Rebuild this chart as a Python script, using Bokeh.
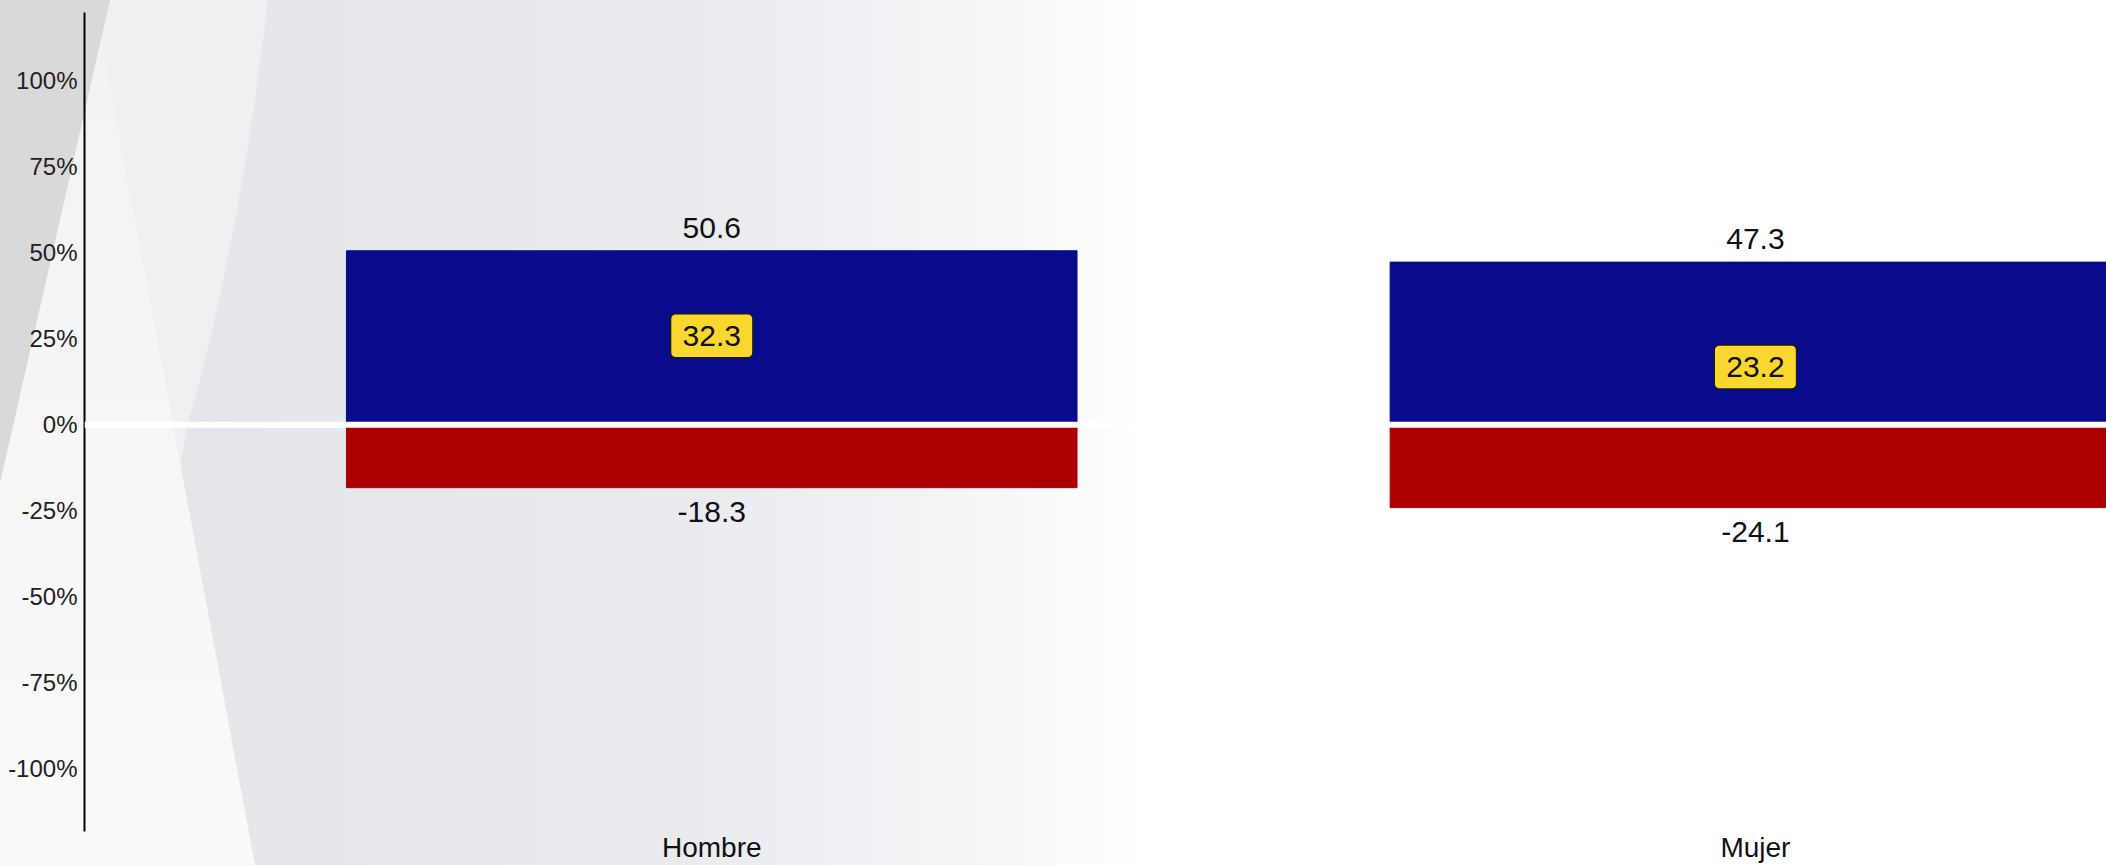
from urllib.parse import quote

from bokeh.plotting import figure
from bokeh.models import ColumnDataSource, Range1d, FixedTicker, Span, PrintfTickFormatter
from bokeh.embed import file_html
from bokeh.resources import INLINE
from bokeh.core.properties import value

# ---------------- data ----------------
categories = ["Hombre", "Mujer"]
positivo = [50.6, 47.3]
negativo = [-18.3, -24.1]
neto = [32.3, 23.2]
y_ticks = [-100, -75, -50, -25, 0, 25, 50, 75, 100]

BLUE = "#070b8c"
RED = "#aa0000"
YELLOW = "#f9d72e"
FONT = "Liberation Sans"

xs = list(range(len(categories)))
src = ColumnDataSource(dict(
    x=xs,
    pos=positivo,
    neg=negativo,
    net=neto,
    pos_lbl=[f"{v:.1f}" for v in positivo],
    neg_lbl=[f"{v:.1f}" for v in negativo],
    net_lbl=[f"{v:.1f}" for v in neto],
))

# ---------------- decorative background (CSS) ----------------
W, H = 2106, 865
bg_svg = f"""<svg xmlns='http://www.w3.org/2000/svg' width='{W}' height='{H}' viewBox='0 0 {W} {H}' preserveAspectRatio='none'>
<defs>
<linearGradient id='g' gradientUnits='userSpaceOnUse' x1='0' y1='0' x2='{W}' y2='0'>
<stop offset='0' stop-color='#e3e4e8'/>
<stop offset='0.13' stop-color='#e6e7eb'/>
<stop offset='0.33' stop-color='#eaebef'/>
<stop offset='0.45' stop-color='#f3f4f6'/>
<stop offset='0.545' stop-color='#ffffff'/>
<stop offset='1' stop-color='#ffffff'/>
</linearGradient>
<linearGradient id='t' x1='0' y1='0' x2='0' y2='1'>
<stop offset='0' stop-color='#f2f2f3'/>
<stop offset='1' stop-color='#fafafa'/>
</linearGradient>
</defs>
<rect x='0' y='0' width='{W}' height='{H}' fill='url(#g)'/>
<path d='M 0 0 L 268 0 Q 240 240 188 424 L 104 865 L 0 865 Z' fill='#eff0f2'/>
<path d='M 0 0 L 94 0 L 255 865 L 0 865 Z' fill='url(#t)'/>
<path d='M 0 0 L 110 0 L 0 483 Z' fill='#d9d9d9'/>
</svg>"""
bg_uri = "data:image/svg+xml;charset=utf-8," + quote(bg_svg)

# ---------------- figure ----------------
p = figure(
    width=W, height=H,
    x_range=Range1d(-0.601, 1.3364),
    y_range=Range1d(-118.3, 119.9),
    output_backend="svg",
    toolbar_location=None,
    min_border_left=84, min_border_top=12, min_border_right=0, min_border_bottom=0,
)
p.styles = {
    "background-image": f'url("{bg_uri}")',
    "background-size": "100% 100%",
    "background-repeat": "no-repeat",
}
p.background_fill_alpha = 0
p.border_fill_alpha = 0
p.outline_line_color = None
p.grid.visible = False

# bars
p.vbar(x="x", top="pos", bottom=0, width=0.7, source=src,
       fill_color=BLUE, line_color=BLUE, line_width=1)
p.vbar(x="x", top="neg", bottom=0, width=0.7, source=src,
       fill_color=RED, line_color=RED, line_width=1)

# zero line
p.add_layout(Span(location=0, dimension="width", line_color="white", line_width=6))

# value labels
p.text(x="x", y="pos", text="pos_lbl", source=src, text_align="center",
       text_baseline="middle", y_offset=-23, text_font=value(FONT),
       text_font_size="30px", text_color="#111111")
p.text(x="x", y="neg", text="neg_lbl", source=src, text_align="center",
       text_baseline="middle", y_offset=24, text_font=value(FONT),
       text_font_size="30px", text_color="#111111")

# net labels in yellow boxes
p.text(x="x", y="net", text="net_lbl", source=src, text_align="center",
       text_baseline="top", anchor="top_center", text_font=value(FONT),
       text_font_size="30px", text_color="#111111",
       background_fill_color=YELLOW, border_line_color="#1a1a1a",
       border_line_width=1.5, border_radius=5,
       padding=dict(left=12, right=12, top=12, bottom=12))

# y axis
ya = p.yaxis[0]
ya.ticker = FixedTicker(ticks=y_ticks)
ya.formatter = PrintfTickFormatter(format="%d%%")
ya.major_tick_out = 0
ya.major_tick_in = 0
ya.minor_tick_out = 0
ya.minor_tick_in = 0
ya.axis_line_color = "black"
ya.axis_line_width = 2
ya.major_label_standoff = 7
ya.major_label_text_font = FONT
ya.major_label_text_font_size = "24px"
ya.major_label_text_color = "#222222"

# x axis
xa = p.xaxis[0]
xa.ticker = FixedTicker(ticks=xs)
xa.major_label_overrides = {i: c for i, c in zip(xs, categories)}
xa.axis_line_color = None
xa.major_tick_out = 0
xa.major_tick_in = 0
xa.minor_tick_out = 0
xa.minor_tick_in = 0
xa.major_label_standoff = 0
xa.major_label_text_font = FONT
xa.major_label_text_font_size = "28px"
xa.major_label_text_color = "#111111"

open("out.html", "w").write(file_html(p, INLINE))
